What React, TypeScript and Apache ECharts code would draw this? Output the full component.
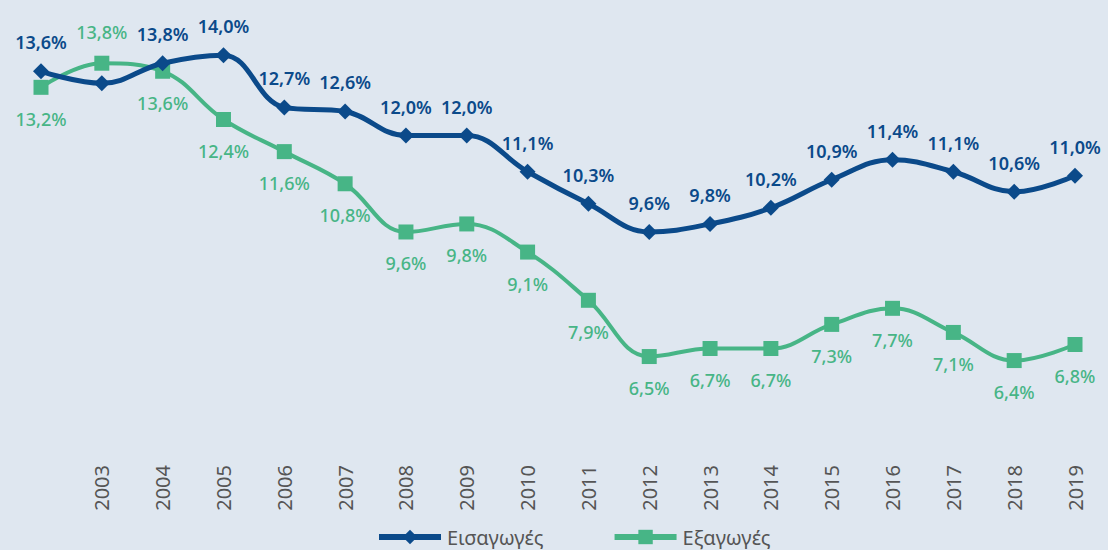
import React, { useEffect, useRef } from "react";
import * as echarts from "echarts";

const years = ["2002", "2003", "2004", "2005", "2006", "2007", "2008", "2009", "2010", "2011", "2012", "2013", "2014", "2015", "2016", "2017", "2018", "2019"];
const imports = [13.6, 13.3, 13.8, 14.0, 12.7, 12.6, 12.0, 12.0, 11.1, 10.3, 9.6, 9.8, 10.2, 10.9, 11.4, 11.1, 10.6, 11.0];
const exports_ = [13.2, 13.8, 13.6, 12.4, 11.6, 10.8, 9.6, 9.8, 9.1, 7.9, 6.5, 6.7, 6.7, 7.3, 7.7, 7.1, 6.4, 6.8];
const hiddenImportLabels = [1];
const exportLabelsAbove = [1];

const BLUE = "#0b4a8a";
const GREEN = "#47b586";
const fmt = (v: number) => v.toFixed(1).replace(".", ",") + "%";

export default function App() {
  const ref = useRef<HTMLDivElement>(null);
  useEffect(() => {
    const chart = echarts.init(ref.current!, null, { renderer: "svg" });
    chart.setOption({
      animation: false,
      backgroundColor: "#dfe7f0",
      textStyle: { fontFamily: "Noto Sans" },
      grid: { left: 41, right: 33, top: 15, bottom: 93 },
      legend: {
        left: 376,
        top: 526,
        itemWidth: 62,
        itemHeight: 18,
        itemGap: 68,
        padding: 0,
        lineStyle: { width: 6 },
        textStyle: { color: "#555", fontSize: 20, lineHeight: 22, fontFamily: "Noto Sans", padding: [0, 0, 0, 1] },
        data: ["Εισαγωγές", "Εξαγωγές"],
      },
      xAxis: {
        type: "category",
        data: years,
        boundaryGap: false,
        axisLine: { show: false },
        axisTick: { show: false },
        axisLabel: {
          rotate: 90,
          color: "#555",
          fontSize: 20,
          margin: 8,
          formatter: (v: string) => (v === "2002" ? "" : v),
        },
      },
      yAxis: {
        type: "value",
        min: 4,
        max: 15,
        show: false,
        splitLine: { show: false },
      },
      series: [
        {
          name: "Εισαγωγές",
          type: "line",
          smooth: 0.4,
          data: imports.map((v, i) => ({
            value: v,
            label: { show: !hiddenImportLabels.includes(i) },
          })),
          symbol: "diamond",
          symbolSize: 16,
          lineStyle: { color: BLUE, width: 5 },
          itemStyle: { color: BLUE },
          label: {
            show: true,
            position: "top",
            distance: 12,
            color: BLUE,
            fontSize: 18,
            fontWeight: 600,
            formatter: (p: any) => fmt(p.value),
          },
          z: 3,
        },
        {
          name: "Εξαγωγές",
          type: "line",
          smooth: 0.4,
          data: exports_.map((v, i) => ({
            value: v,
            label: { position: exportLabelsAbove.includes(i) ? "top" : "bottom" },
          })),
          symbol: "rect",
          symbolSize: 15,
          lineStyle: { color: GREEN, width: 4 },
          itemStyle: { color: GREEN },
          label: {
            show: true,
            position: "bottom",
            distance: 15,
            color: GREEN,
            fontSize: 18,
            fontWeight: 500,
            formatter: (p: any) => fmt(p.value),
          },
          z: 2,
        },
      ],
    });
    return () => chart.dispose();
  }, []);
  return (
    <div
      ref={ref}
      style={{ position: "absolute", left: 0, top: 0, width: 1108, height: 550 }}
    />
  );
}
